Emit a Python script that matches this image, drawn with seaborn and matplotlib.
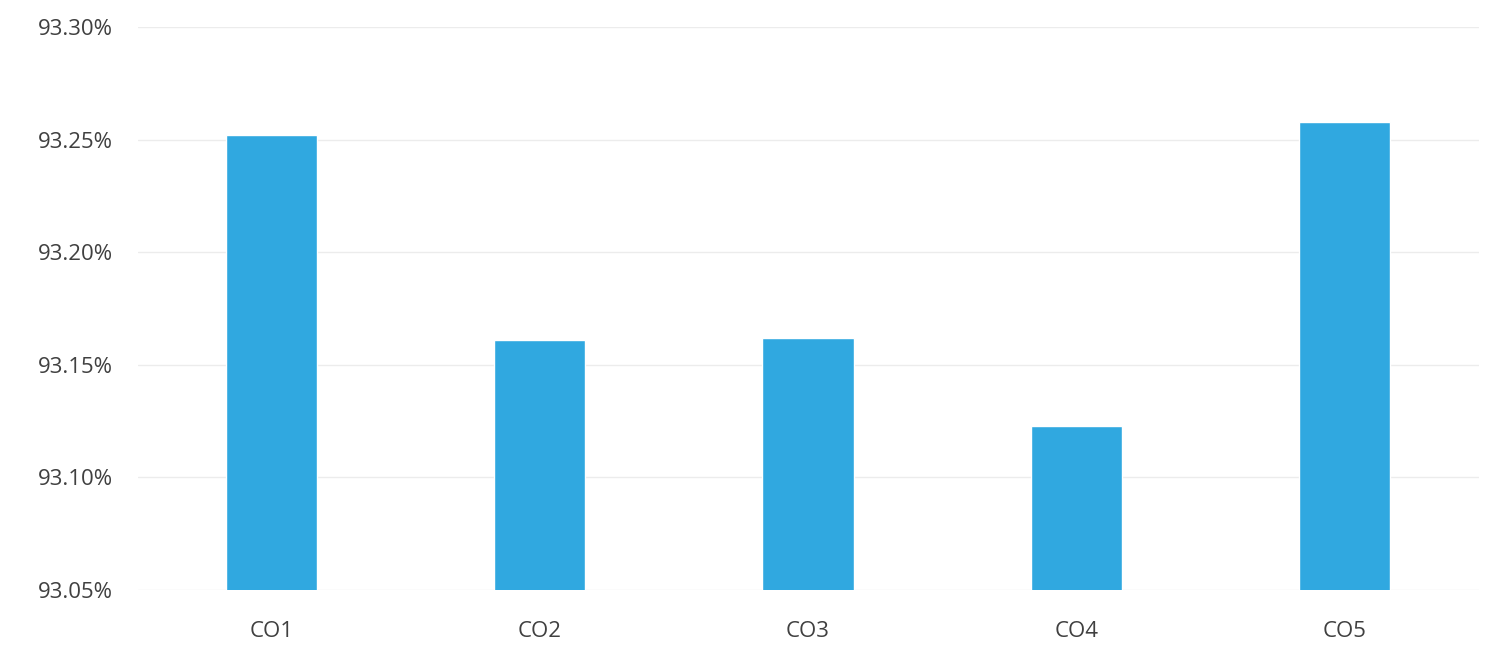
"""
Bar chart of CO attainment percentages
"""

import matplotlib
matplotlib.use("Agg")
import matplotlib.pyplot as plt
import seaborn as sns
import pandas as pd
from matplotlib.ticker import FuncFormatter


## DATA
categories = ["CO1", "CO2", "CO3", "CO4", "CO5"]
values = [93.252, 93.161, 93.162, 93.123, 93.258]
yticks = [93.05, 93.10, 93.15, 93.20, 93.25, 93.30]


def main():
  sns.set_theme(style="white")
  plt.rcParams['font.family'] = ['Open Sans', 'DejaVu Sans']

  df = pd.DataFrame({'co': categories, 'pct': values})

  fig = plt.figure(figsize=(14.95, 6.48), dpi=100)
  ax = fig.add_axes([0.092, 0.0895, 0.897, 0.8685])

  sns.barplot(data=df, x='co', y='pct', color='#30a8e0', width=0.34,
              saturation=1, ax=ax, zorder=2)

  ax.set_ylim(93.05, 93.30)
  ax.set_xlim(-0.5, 4.5)
  ax.set_yticks(yticks)
  ax.yaxis.set_major_formatter(FuncFormatter(lambda v, p: f"{v:.2f}%"))
  ax.grid(axis='y', color='#ececec', linewidth=1, zorder=0)
  ax.set_xlabel('')
  ax.set_ylabel('')
  for s in ax.spines.values():
    s.set_visible(False)
  ax.tick_params(axis='both', length=0, labelsize=16, colors='#404040')
  ax.tick_params(axis='y', pad=18)
  ax.tick_params(axis='x', pad=22)

  fig.savefig('out.png', dpi=100)


if __name__ == '__main__':
  main()
